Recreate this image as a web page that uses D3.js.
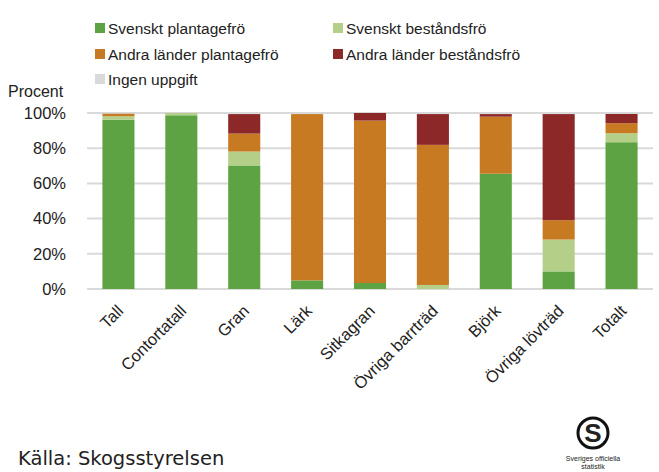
<!DOCTYPE html>
<html>
<head>
<meta charset="utf-8">
<title>Fröursprung per trädslag</title>
<script src="https://d3js.org/d3.v7.min.js"></script>
<style>
body { margin: 0; background: #fff; }
text { font-family: "Liberation Sans", Arial, sans-serif; fill: #222; }
</style>
</head>
<body>
<script type="text/javascript">

var categories = ["Tall", "Contortatall", "Gran", "Lärk", "Sitkagran",
  "Övriga barrträd", "Björk", "Övriga lövträd", "Totalt"];

var seriesNames = ["Svenskt plantagefrö", "Svenskt beståndsfrö",
  "Andra länder plantagefrö", "Andra länder beståndsfrö", "Ingen uppgift"];

var svPlantage   = [96.2, 98.7, 70.2,  4.9,  3.4,  0.0, 65.5, 10.0, 83.4];
var svBestand    = [ 2.0,  1.3,  7.9,  0.0,  0.0,  2.3,  0.0, 18.1,  5.1];
var andraPlant   = [ 1.5,  0.0, 10.2, 94.5, 92.3, 79.6, 32.4, 11.0,  5.7];
var andraBestand = [ 0.0,  0.0, 11.1,  0.0,  4.3, 17.5,  1.5, 60.3,  5.3];
var ingen        = [ 0.3,  0.0,  0.6,  0.6,  0.0,  0.6,  0.6,  0.6,  0.5];

var yTicks = [0, 20, 40, 60, 80, 100];

var colors = ["#5ea343", "#b4cf88", "#c87a22", "#8d2829", "#d9d9d9"];

var width = 659, height = 472;
var svg = d3.select("body").append("svg")
  .attr("width", width).attr("height", height);

// build rows for the stack
var rows = categories.map(function(c, i) {
  var r = {cat: c};
  r[seriesNames[0]] = svPlantage[i];
  r[seriesNames[1]] = svBestand[i];
  r[seriesNames[2]] = andraPlant[i];
  r[seriesNames[3]] = andraBestand[i];
  r[seriesNames[4]] = ingen[i];
  return r;
});
var stacked = d3.stack().keys(seriesNames)(rows);

var x = d3.scaleBand().domain(categories).range([87, 653])
  .paddingInner(0.49).paddingOuter(0.245);
var y = d3.scaleLinear().domain([0, 100]).range([289, 113]);

// gridlines
svg.append("g").selectAll("line").data(yTicks).enter().append("line")
  .attr("x1", 87).attr("x2", 653)
  .attr("y1", function(d){ return y(d); })
  .attr("y2", function(d){ return y(d); })
  .attr("stroke", "#d9d9d9").attr("stroke-width", 2);

// y tick labels
var yAxis = svg.append("g").attr("transform", "translate(72,0)")
  .call(d3.axisLeft(y).tickValues(yTicks).tickSize(0).tickPadding(6)
    .tickFormat(function(d){ return d + "%"; }));
yAxis.select(".domain").remove();
yAxis.selectAll("text").style("font-size", "16.5px")
  .style("font-family", "'Liberation Sans', Arial, sans-serif").attr("fill", "#222");

svg.append("text").attr("x", 8).attr("y", 97).style("font-size", "16px").text("Procent");

// bars
svg.append("g").selectAll("g").data(stacked).enter().append("g")
  .attr("fill", function(d, i){ return colors[i]; })
  .selectAll("rect").data(function(d){ return d; }).enter().append("rect")
  .attr("x", function(d){ return x(d.data.cat); })
  .attr("width", x.bandwidth())
  .attr("y", function(d){ return y(d[1]); })
  .attr("height", function(d){ return y(d[0]) - y(d[1]); });

// x labels
svg.append("g").selectAll("text").data(categories).enter().append("text")
  .attr("text-anchor", "end")
  .style("font-size", "16.5px")
  .attr("transform", function(d){
    return "translate(" + (x(d) + x.bandwidth() / 2 + 6) + ",312) rotate(-45)";
  })
  .text(function(d){ return d; });

// legend
var legendPos = [[95, 28], [333, 28], [95, 54], [333, 54], [95, 79]];
var leg = svg.append("g").selectAll("g").data(seriesNames).enter().append("g")
  .attr("transform", function(d, i){
    return "translate(" + legendPos[i][0] + "," + legendPos[i][1] + ")";
  });
leg.append("rect").attr("x", 0).attr("y", -5).attr("width", 10).attr("height", 10)
  .attr("fill", function(d, i){ return colors[i]; });
leg.append("text").attr("x", 13).attr("y", 5.5).style("font-size", "15.5px")
  .text(function(d){ return d; });

// source
svg.append("text").attr("x", 18).attr("y", 465)
  .style("font-family", "'DejaVu Sans', Verdana, sans-serif")
  .style("font-size", "19.5px").attr("fill", "#111")
  .text("Källa: Skogsstyrelsen");

// SOS logo
var logo = svg.append("g").attr("transform", "translate(593,433)");
logo.append("circle").attr("r", 15).attr("fill", "none")
  .attr("stroke", "#111").attr("stroke-width", 3);
logo.append("text").attr("text-anchor", "middle").attr("y", 9)
  .style("font-size", "26px").style("font-weight", "bold").attr("fill", "#111").text("S");
logo.append("text").attr("text-anchor", "middle").attr("y", 28)
  .style("font-size", "7px").attr("fill", "#111").text("Sveriges officiella");
logo.append("text").attr("text-anchor", "middle").attr("y", 36)
  .style("font-size", "7px").attr("fill", "#111").text("statistik");

</script>
</body>
</html>
